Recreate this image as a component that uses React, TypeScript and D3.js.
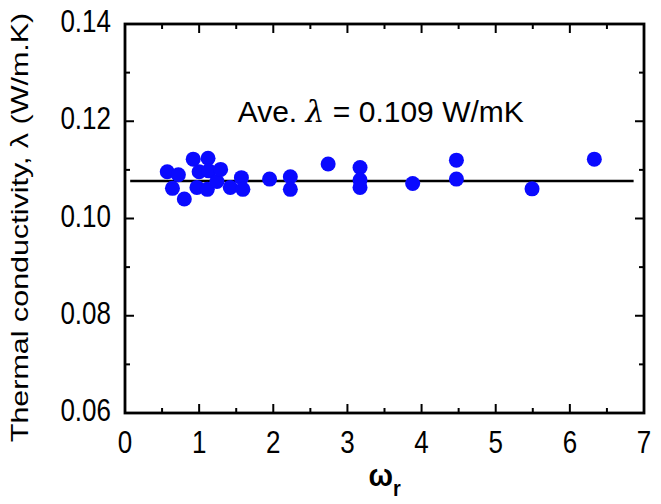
import * as d3 from 'd3';
import React from 'react';

// measured points: omega_r vs thermal conductivity
const omegaR = [0.57, 0.64, 0.72, 0.80, 0.92, 0.97, 1.00, 1.11, 1.12, 1.13, 1.24, 1.29, 1.42, 1.57, 1.59, 1.95, 2.23, 2.23, 2.74, 3.17, 3.17, 3.17, 3.88, 4.47, 4.47, 5.49, 6.33];
const lambda = [0.1096, 0.1062, 0.1090, 0.1040, 0.1122, 0.1064, 0.1096, 0.1060, 0.1124, 0.1098, 0.1076, 0.1101, 0.1064, 0.1084, 0.1060, 0.1081, 0.1086, 0.1060, 0.1112, 0.1105, 0.1079, 0.1064, 0.1072, 0.1120, 0.1081, 0.1061, 0.1122];

const fitLineX = [0.07, 6.86];
const fitLineY = [0.1077, 0.1077];

const xTicks = [0, 1, 2, 3, 4, 5, 6, 7];
const xMinor = [0.5, 1.5, 2.5, 3.5, 4.5, 5.5, 6.5];
const yTicks = [0.06, 0.08, 0.1, 0.12, 0.14];
const yMinor = [0.07, 0.09, 0.11, 0.13];

const W = 661;
const H = 504;
const margin = { left: 125, right: 17, top: 24, bottom: 91 };
const FONT = '"Liberation Sans", Arial, sans-serif';

export default function App() {
  const x = d3.scaleLinear().domain([0, 7]).range([margin.left, W - margin.right]);
  const y = d3.scaleLinear().domain([0.06, 0.14]).range([H - margin.bottom, margin.top]);
  const [x0, x1] = x.range();
  const [yb, yt] = y.range();

  const line = d3.line<number>()
    .x((d, i) => x(fitLineX[i]))
    .y(d => y(d));

  const major = 9;
  const minor = 5;

  return (
    <svg width={W} height={H} style={{ position: 'absolute', left: 0, top: 0, background: '#fff' }}>
      <rect x={0} y={0} width={W} height={H} fill="#fff" />

      {/* ticks, inward on all four sides */}
      <g stroke="#000" strokeWidth={2}>
        {xTicks.map(t => (
          <g key={'xt' + t}>
            <line x1={x(t)} x2={x(t)} y1={yb} y2={yb - major} />
            <line x1={x(t)} x2={x(t)} y1={yt} y2={yt + major} />
          </g>
        ))}
        {xMinor.map(t => (
          <g key={'xm' + t}>
            <line x1={x(t)} x2={x(t)} y1={yb} y2={yb - minor} />
            <line x1={x(t)} x2={x(t)} y1={yt} y2={yt + minor} />
          </g>
        ))}
        {yTicks.map(t => (
          <g key={'yt' + t}>
            <line x1={x0} x2={x0 + major} y1={y(t)} y2={y(t)} />
            <line x1={x1} x2={x1 - major} y1={y(t)} y2={y(t)} />
          </g>
        ))}
        {yMinor.map(t => (
          <g key={'ym' + t}>
            <line x1={x0} x2={x0 + minor} y1={y(t)} y2={y(t)} />
            <line x1={x1} x2={x1 - minor} y1={y(t)} y2={y(t)} />
          </g>
        ))}
      </g>

      <path d={line(fitLineY) || ''} fill="none" stroke="#000" strokeWidth={2.5} />

      <g fill="#0a0aff">
        {omegaR.map((v, i) => (
          <circle key={i} cx={x(v)} cy={y(lambda[i])} r={7.5} />
        ))}
      </g>

      <rect x={x0} y={yt} width={x1 - x0} height={yb - yt} fill="none" stroke="#000" strokeWidth={2.8} />

      {/* tick labels */}
      <g fontFamily={FONT} fontSize={26} fill="#000">
        {xTicks.map(t => (
          <text key={'xl' + t} textAnchor="middle" transform={`translate(${x(t)},${yb + 40}) scale(1,1.18)`}>
            {t}
          </text>
        ))}
        {yTicks.map(t => (
          <text key={'yl' + t} textAnchor="end" transform={`translate(${x0 - 14},${y(t) + 8}) scale(1,1.18)`}>
            {t.toFixed(2)}
          </text>
        ))}
      </g>

      <text
        fontFamily={FONT}
        fontSize={24}
        textAnchor="middle"
        transform={`translate(28,${(yt + yb) / 2 + 9}) scale(1,1.27) rotate(-90)`}
      >
        Thermal conductivity, λ (W/m.K)
      </text>

      <text fontFamily={FONT} fontSize={29} transform={`translate(${(x0 + x1) / 2 - 16},${yb + 73}) scale(1,1.1)`} fontWeight="bold">
        ω
        <tspan fontSize={20} dy={9}>r</tspan>
      </text>

      <text fontFamily={FONT} fontSize={30} x={x(1.52)} y={y(0.1199)}>
        Ave. <tspan fontStyle="italic" fontFamily='"DejaVu Serif", serif'>λ</tspan> = 0.109 W/mK
      </text>
    </svg>
  );
}
